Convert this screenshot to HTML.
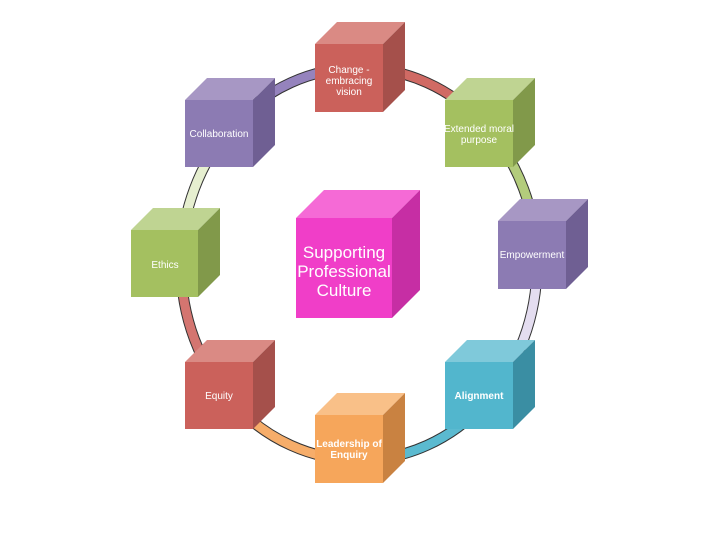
<!DOCTYPE html>
<html><head><meta charset="utf-8"><style>
html,body{margin:0;padding:0;background:#fff;}
svg{display:block;font-family:"Liberation Sans",sans-serif;}
</style></head><body>
<svg width="720" height="540" viewBox="0 0 720 540">
<g fill="none" stroke-linecap="butt">
<g stroke="#333" stroke-width="11">
<path d="M233 125 A178 196 0 0 1 359 68"/>
<path d="M359 68 A178 196 0 0 1 485 125"/>
<path d="M485 125 A178 196 0 0 1 537 264"/>
<path d="M537 264 A178 196 0 0 1 485 403"/>
<path d="M485 403 A178 196 0 0 1 359 460"/>
<path d="M359 460 A178 196 0 0 1 233 403"/>
<path d="M233 403 A178 196 0 0 1 181 264"/>
<path d="M181 264 A178 196 0 0 1 233 125"/>
</g>
<g stroke-width="9">
<path stroke="#9583bd" d="M233 125 A178 196 0 0 1 359 68"/>
<path stroke="#d06a64" d="M359 68 A178 196 0 0 1 485 125"/>
<path stroke="#b3cc7c" d="M485 125 A178 196 0 0 1 537 264"/>
<path stroke="#e4ddf0" d="M537 264 A178 196 0 0 1 485 403"/>
<path stroke="#5bbad0" d="M485 403 A178 196 0 0 1 359 460"/>
<path stroke="#f6ad6a" d="M359 460 A178 196 0 0 1 233 403"/>
<path stroke="#d47570" d="M233 403 A178 196 0 0 1 181 264"/>
<path stroke="#e6efd0" d="M181 264 A178 196 0 0 1 233 125"/>
</g>
</g>
<g>
<polygon points="315,44 337,22 405,22 383,44" fill="#da8a84"/>
<polygon points="383,44 405,22 405,90 383,112" fill="#a5504b"/>
<rect x="315" y="44" width="68" height="68" fill="#cb615b"/>
<polygon points="185,100 207,78 275,78 253,100" fill="#a797c4"/>
<polygon points="253,100 275,78 275,145 253,167" fill="#6f5f93"/>
<rect x="185" y="100" width="68" height="67" fill="#8c7bb3"/>
<polygon points="445,100 467,78 535,78 513,100" fill="#bfd492"/>
<polygon points="513,100 535,78 535,145 513,167" fill="#81994a"/>
<rect x="445" y="100" width="68" height="67" fill="#a4c060"/>
<polygon points="131,230 153,208 220,208 198,230" fill="#bfd492"/>
<polygon points="198,230 220,208 220,275 198,297" fill="#81994a"/>
<rect x="131" y="230" width="67" height="67" fill="#a4c060"/>
<polygon points="498,221 520,199 588,199 566,221" fill="#a797c4"/>
<polygon points="566,221 588,199 588,267 566,289" fill="#6f5f93"/>
<rect x="498" y="221" width="68" height="68" fill="#8c7bb3"/>
<polygon points="185,362 207,340 275,340 253,362" fill="#da8a84"/>
<polygon points="253,362 275,340 275,407 253,429" fill="#a5504b"/>
<rect x="185" y="362" width="68" height="67" fill="#cb615b"/>
<polygon points="445,362 467,340 535,340 513,362" fill="#7fc9da"/>
<polygon points="513,362 535,340 535,407 513,429" fill="#3a8ea3"/>
<rect x="445" y="362" width="68" height="67" fill="#52b6cd"/>
<polygon points="315,415 337,393 405,393 383,415" fill="#f9c088"/>
<polygon points="383,415 405,393 405,461 383,483" fill="#c98241"/>
<rect x="315" y="415" width="68" height="68" fill="#f6a65b"/>
<polygon points="296,218 324,190 420,190 392,218" fill="#f56ad6"/>
<polygon points="392,218 420,190 420,290 392,318" fill="#c62ea4"/>
<rect x="296" y="218" width="96" height="100" fill="#f03ec8"/>
</g>
<g fill="#fff" font-size="10" text-anchor="middle">
<text x="349" y="73">Change -</text>
<text x="349" y="84">embracing</text>
<text x="349" y="95">vision</text>
<text x="219" y="137">Collaboration</text>
<text x="479" y="132">Extended moral</text>
<text x="479" y="143">purpose</text>
<text x="165" y="268">Ethics</text>
<text x="532" y="258">Empowerment</text>
<text x="219" y="399">Equity</text>
<text x="479" y="399" font-weight="bold">Alignment</text>
<text x="349" y="447" font-weight="bold">Leadership of</text>
<text x="349" y="458" font-weight="bold">Enquiry</text>
<g font-size="17">
<text x="344" y="258">Supporting</text>
<text x="344" y="277">Professional</text>
<text x="344" y="296">Culture</text>
</g>
</g>
</svg>
</body></html>
